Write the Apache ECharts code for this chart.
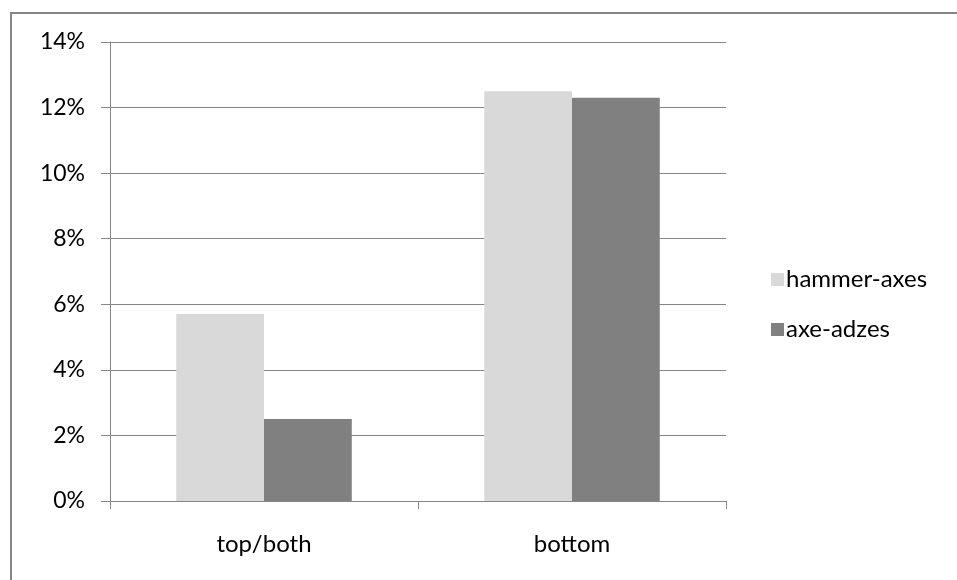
<!DOCTYPE html>
<html><head><meta charset="utf-8">
<script src="https://cdn.jsdelivr.net/npm/echarts@6/dist/echarts.min.js"></script>
<style>
html,body{margin:0;padding:0;background:#fff;}
#c{width:957px;height:580px;position:relative;}
#frame{position:absolute;left:10px;top:12px;right:0;bottom:0;border-top:2px solid #868686;border-left:2px solid #868686;pointer-events:none;}
</style></head>
<body><div id="c"></div><div id="frame"></div>
<script>
var categories = ['top/both', 'bottom'];
var hammerAxes = [5.7, 12.5];
var axeAdzes = [2.5, 12.3];
var yTicks = [0, 2, 4, 6, 8, 10, 12, 14];

var chart = echarts.init(document.getElementById('c'), null, {renderer: 'canvas'});
var font = 'Lato';
chart.setOption({
  animation: false,
  textStyle: {fontFamily: font},
  grid: {left: 110, right: 231, top: 42, bottom: 79},
  legend: {
    orient: 'vertical', left: 766, top: 262,
    itemWidth: 13, itemHeight: 13, itemGap: 25,
    icon: 'rect',
    textStyle: {fontFamily: font, fontSize: 24, lineHeight: 25, color: '#000', padding: [0,0,0,-3]},
    data: ['hammer-axes', 'axe-adzes']
  },
  xAxis: {
    type: 'category', data: categories,
    axisLine: {lineStyle: {color: '#868686', width: 1}},
    axisTick: {show: true, length: 8, lineStyle: {color: '#868686'}},
    axisLabel: {fontFamily: font, fontSize: 24, color: '#000', margin: 31}
  },
  yAxis: {
    type: 'value', min: yTicks[0], max: yTicks[yTicks.length-1], interval: 2,
    axisLine: {show: true, lineStyle: {color: '#868686', width: 1}},
    axisTick: {show: true, length: 9, lineStyle: {color: '#868686'}},
    splitLine: {lineStyle: {color: '#868686', width: 1}},
    axisLabel: {fontFamily: font, fontSize: 23, color: '#000', margin: 25, formatter: '{value}%'}
  },
  series: [
    {name: 'hammer-axes', type: 'bar', data: hammerAxes, itemStyle: {color: '#D9D9D9'}, barGap: '0%', barCategoryGap: '43%'},
    {name: 'axe-adzes', type: 'bar', data: axeAdzes, itemStyle: {color: '#808080'}, barGap: '0%', barCategoryGap: '43%'}
  ]
});
</script></body></html>
